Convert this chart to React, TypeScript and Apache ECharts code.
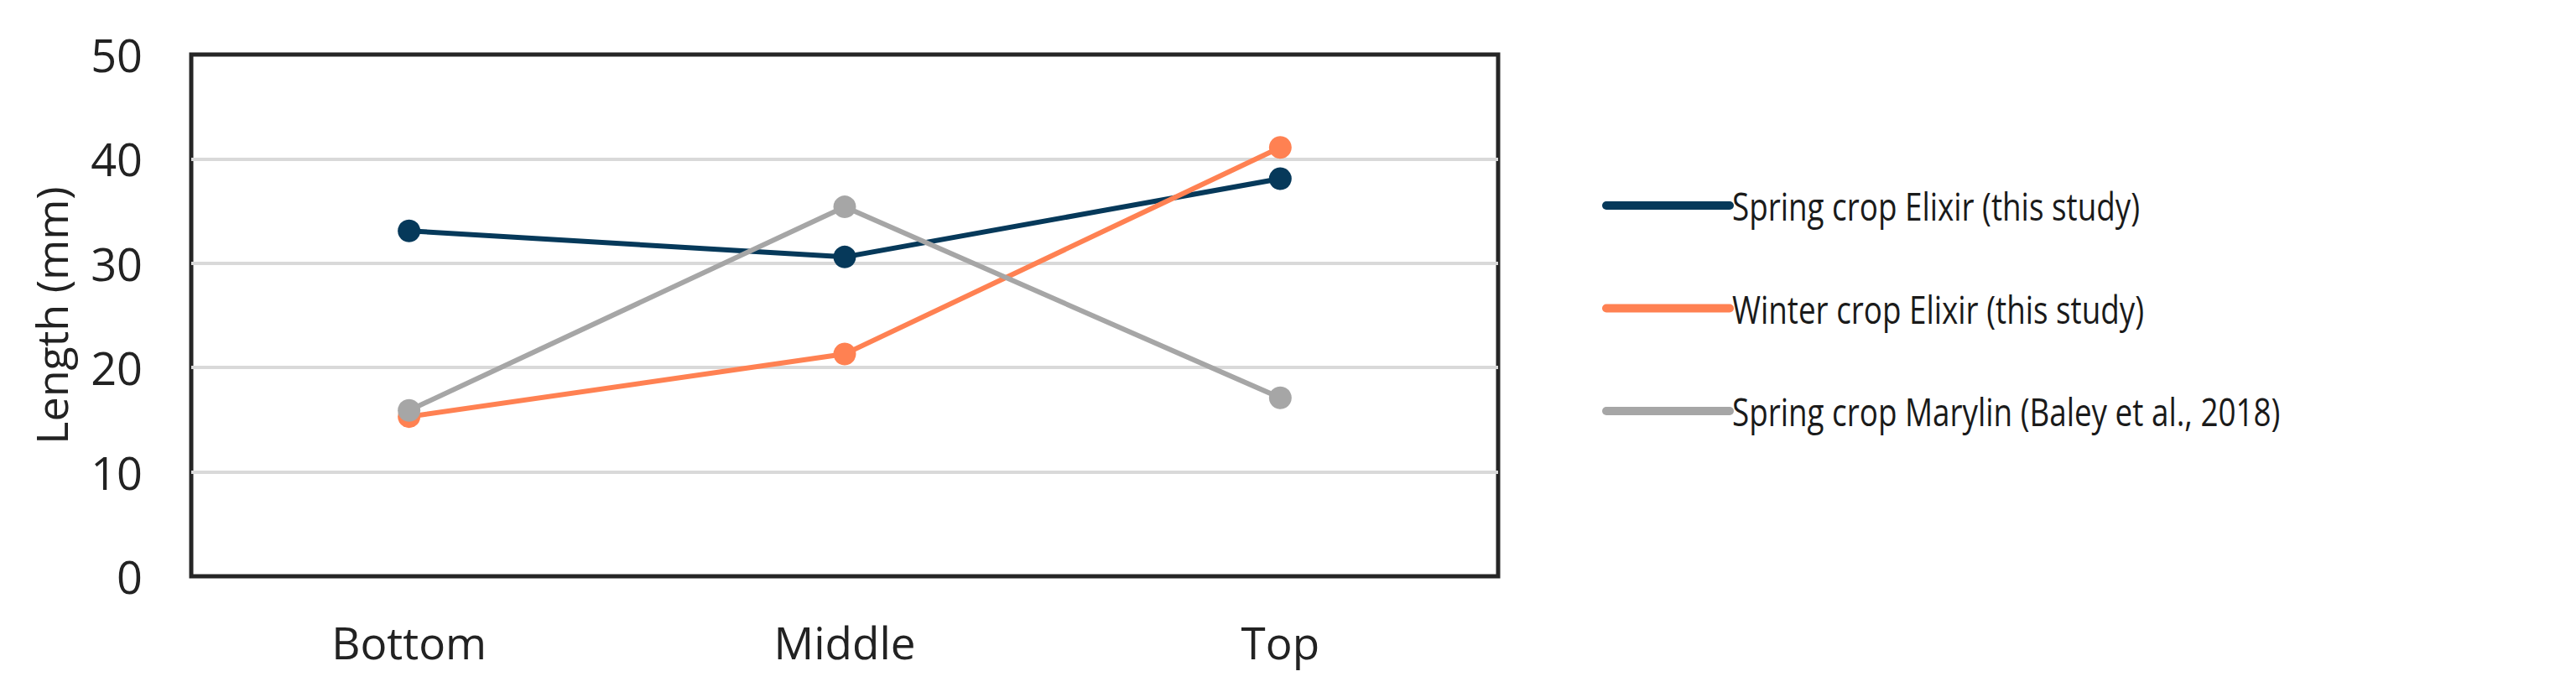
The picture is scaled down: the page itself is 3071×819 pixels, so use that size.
import React, { useEffect, useRef } from "react";
import * as echarts from "echarts";

const categories = ["Bottom", "Middle", "Top"];
const springElixir = [33.1, 30.6, 38.1];
const winterElixir = [15.3, 21.3, 41.1];
const springMarylin = [15.9, 35.4, 17.1];
const seriesNames = [
  "Spring crop Elixir (this study)",
  "Winter crop Elixir (this study)",
  "Spring crop Marylin (Baley et al., 2018)",
];
const colors = ["#06395A", "#FF8152", "#A6A6A6"];

export default function App() {
  const ref = useRef<HTMLDivElement>(null);
  useEffect(() => {
    if (!ref.current) return;
    const chart = echarts.init(ref.current, null, { renderer: "svg" });
    const data = [springElixir, winterElixir, springMarylin];

    // Legend drawn as graphic so the text can be horizontally condensed
    const legendX = 1915;
    const legendY = 245;
    const legendStep = 122.5;
    const legendGraphics = seriesNames.map((name, i) => ({
      type: "group",
      x: legendX,
      y: legendY + legendStep * i,
      children: [
        {
          type: "line",
          shape: { x1: 0, y1: 0, x2: 147, y2: 0 },
          style: { stroke: colors[i], lineWidth: 10, lineCap: "round" },
        },
        {
          type: "text",
          x: 150,
          y: 0,
          scaleX: 0.8,
          style: {
            text: name,
            fontFamily: "'Open Sans', sans-serif",
            fontSize: 46,
            fill: "#1a1a1a",
            verticalAlign: "middle",
            align: "left",
          },
        },
      ],
    }));

    chart.setOption({
      animation: false,
      backgroundColor: "#ffffff",
      grid: {
        left: 228,
        top: 65,
        width: 1558,
        height: 622,
        show: true,
        borderColor: "#262626",
        borderWidth: 5,
        containLabel: false,
      },
      graphic: legendGraphics,
      xAxis: {
        type: "category",
        data: categories,
        boundaryGap: true,
        axisLine: { show: false },
        axisTick: { show: false },
        axisLabel: {
          fontFamily: "'Open Sans', sans-serif",
          fontSize: 53,
          color: "#222222",
          margin: 52,
        },
        splitLine: { show: false },
      },
      yAxis: {
        type: "value",
        min: 0,
        max: 50,
        interval: 10,
        name: "Length (mm)",
        nameLocation: "middle",
        nameGap: 142,
        nameTextStyle: {
          fontFamily: "'Open Sans', sans-serif",
          fontSize: 52,
          color: "#222222",
        },
        axisLine: { show: false },
        axisTick: { show: false },
        axisLabel: {
          fontFamily: "'Open Sans', sans-serif",
          fontSize: 54,
          color: "#222222",
          margin: 58,
        },
        splitLine: {
          show: true,
          showMinLine: false,
          showMaxLine: false,
          lineStyle: { color: "#D9D9D9", width: 4 },
        },
      },
      series: seriesNames.map((name, i) => ({
        name,
        type: "line",
        data: data[i],
        symbol: "circle",
        symbolSize: 27,
        color: colors[i],
        lineStyle: { width: 6, color: colors[i] },
        itemStyle: { color: colors[i] },
        emphasis: { disabled: true },
      })),
    });
    return () => chart.dispose();
  }, []);
  return (
    <div
      ref={ref}
      style={{ position: "fixed", left: 0, top: 0, width: 3071, height: 819 }}
    />
  );
}
